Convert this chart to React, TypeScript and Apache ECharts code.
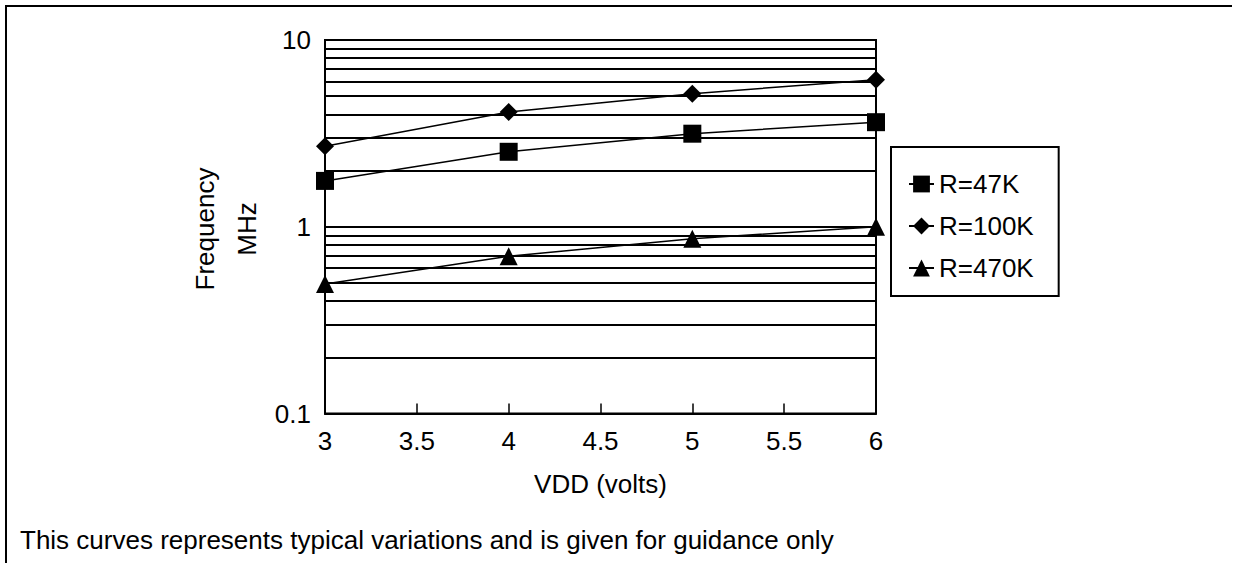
import React, { useEffect, useRef } from "react";
import * as echarts from "echarts";

const VDD = [3, 4, 5, 6];
const R47K = [1.76, 2.52, 3.15, 3.63];
const R100K = [2.7, 4.12, 5.16, 6.13];
const R470K = [0.493, 0.695, 0.863, 1.0];
const SERIES_NAMES = ["R=47K", "R=100K", "R=470K"];
const MINOR_GRID = [0.2, 0.3, 0.4, 0.5, 0.6, 0.7, 0.8, 0.9, 2, 3, 4, 5, 6, 7, 8, 9];
const X_NAME = "VDD (volts)";
const Y_NAME = "Frequency\nMHz";
const NOTE = "This curves represents typical variations and is given for guidance only";

const FONT = "Liberation Sans, Arial, Helvetica, sans-serif";
const FS = 26;

export default function App() {
  const ref = useRef<HTMLDivElement>(null);
  useEffect(() => {
    if (!ref.current) return;
    const chart = echarts.init(ref.current, undefined, { renderer: "svg" });
    const pair = (ys: number[]) => VDD.map((x, i) => [x, ys[i]]);
    const lineStyle = { color: "#000", width: 1.5 };
    chart.setOption({
      animation: false,
      backgroundColor: "#fff",
      textStyle: { fontFamily: FONT, color: "#000" },
      grid: {
        left: 325,
        right: 357,
        top: 40,
        bottom: 149.5,
        show: true,
        borderColor: "#000",
        borderWidth: 2,
        backgroundColor: "transparent",
      },
      xAxis: {
        type: "value",
        min: 3,
        max: 6,
        interval: 0.5,
        name: X_NAME,
        nameLocation: "middle",
        nameGap: 57,
        nameTextStyle: { fontSize: FS, color: "#000", fontFamily: FONT },
        axisLine: { show: true, lineStyle: { color: "#000", width: 2 } },
        axisTick: { show: true, inside: true, length: 10, lineStyle: { color: "#000", width: 1.5 } },
        axisLabel: { fontSize: FS, color: "#000", fontFamily: FONT, margin: 14.5 },
        splitLine: { show: false },
      },
      yAxis: {
        type: "log",
        logBase: 10,
        min: 0.1,
        max: 10,
        axisLine: { show: true, lineStyle: { color: "#000", width: 2 } },
        axisTick: { show: false },
        axisLabel: {
          fontSize: FS,
          color: "#000",
          fontFamily: FONT,
          margin: 14,
          formatter: (v: number) => (v < 1 ? String(Number(v.toFixed(1))) : String(Math.round(v))),
        },
        splitLine: { show: true, lineStyle: { color: "#000", width: 2 } },
      },
      legend: {
        orient: "vertical",
        left: 891,
        top: 147,
        itemWidth: 25,
        itemHeight: 21,
        itemGap: 16,
        padding: [24, 25, 15, 17],
        borderColor: "#000",
        borderWidth: 2,
        backgroundColor: "#fff",
        textStyle: { fontSize: FS, color: "#000", fontFamily: FONT },
        data: SERIES_NAMES,
      },
      series: [
        {
          name: SERIES_NAMES[0],
          type: "line",
          data: pair(R47K),
          symbol: "rect",
          symbolSize: 18,
          itemStyle: { color: "#000" },
          lineStyle,
          z: 5,
          markLine: {
            silent: true,
            symbol: ["none", "none"],
            label: { show: false },
            lineStyle: { color: "#000", width: 2, type: "solid" },
            data: MINOR_GRID.map((v) => ({ yAxis: v })),
            z: 1,
          },
        },
        {
          name: SERIES_NAMES[1],
          type: "line",
          data: pair(R100K),
          symbol: "diamond",
          symbolSize: 18,
          itemStyle: { color: "#000" },
          lineStyle,
          z: 5,
        },
        {
          name: SERIES_NAMES[2],
          type: "line",
          data: pair(R470K),
          symbol: "triangle",
          symbolSize: 18,
          itemStyle: { color: "#000" },
          lineStyle,
          z: 5,
        },
      ],
      graphic: [
        {
          type: "line",
          shape: { x1: 6, y1: 5, x2: 6, y2: 563 },
          style: { stroke: "#000", lineWidth: 2 },
        },
        {
          type: "line",
          shape: { x1: 5, y1: 6, x2: 1232, y2: 6 },
          style: { stroke: "#000", lineWidth: 2 },
        },
        {
          type: "text",
          x: 226,
          y: 229,
          rotation: Math.PI / 2,
          style: {
            text: Y_NAME,
            fontSize: FS,
            fontFamily: FONT,
            fill: "#000",
            align: "center",
            verticalAlign: "middle",
            lineHeight: 42,
          },
        },
        {
          type: "text",
          x: 20,
          y: 540,
          style: {
            text: NOTE,
            fontSize: FS,
            fontFamily: FONT,
            fill: "#000",
            align: "left",
            verticalAlign: "middle",
          },
        },
      ],
    });
    return () => chart.dispose();
  }, []);
  return (
    <div
      ref={ref}
      style={{ position: "fixed", left: 0, top: 0, width: 1233, height: 563, background: "#fff" }}
    />
  );
}
